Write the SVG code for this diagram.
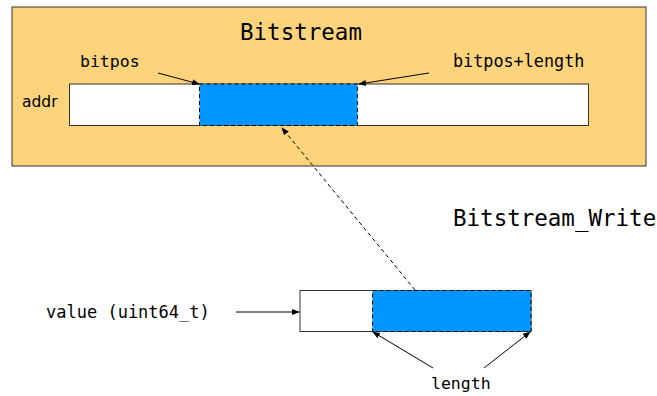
<svg xmlns="http://www.w3.org/2000/svg" width="657" height="396" viewBox="0 0 657 396">
<defs>
<style>
.mono{font-family:"DejaVu Sans Mono","Liberation Mono",monospace;fill:#000}
.sans{font-family:"DejaVu Sans","Liberation Sans",sans-serif;fill:#000}
.ln{stroke:#000;stroke-width:1;fill:none}
.dash{stroke:#000;stroke-width:1;fill:none;stroke-dasharray:4,3}
.sel{stroke:#000;stroke-width:1;fill:#0096FF;stroke-dasharray:4,3}
</style>
<marker id="ah" markerWidth="8" markerHeight="6" refX="7" refY="3" orient="auto" markerUnits="userSpaceOnUse">
<path d="M0,0 L8,3 L0,6 z" fill="#000"/>
</marker>
</defs>
<rect width="657" height="396" fill="#fff"/>
<g id="bitstream">
<rect x="12" y="7" width="634" height="159" fill="#FDD47B" stroke="#333" stroke-width="1"/>
<text class="mono" x="301" y="40" font-size="22.5" text-anchor="middle">Bitstream</text>
<rect x="69.5" y="84" width="519" height="41.5" fill="#fff" stroke="#333" stroke-width="1"/>
<rect x="199.5" y="84" width="158" height="41.5" class="sel"/>
<text class="sans" x="22" y="107" font-size="15.5">addr</text>
<text class="mono" x="80" y="67" font-size="16.5">bitpos</text>
<text class="mono" x="453" y="67" font-size="16.8">bitpos+length</text>
</g>
<g id="value">
<rect x="300" y="290.5" width="231" height="41" fill="#fff" stroke="#333" stroke-width="1"/>
<rect x="372.5" y="290.5" width="158.5" height="41" class="sel"/>
<text class="mono" x="46" y="318" font-size="17">value (uint64_t)</text>
<text class="mono" x="431" y="389" font-size="16.5">length</text>
</g>
<g id="write-label">
<text class="mono" x="453" y="226" font-size="22.5">Bitstream_Write</text>
</g>
<g id="connectors">
<line class="ln" x1="158" y1="73" x2="199" y2="84" marker-end="url(#ah)"/>
<line class="ln" x1="429" y1="73" x2="359" y2="84" marker-end="url(#ah)"/>
<line class="dash" x1="415" y1="290" x2="282" y2="128" marker-end="url(#ah)"/>
<line class="ln" x1="236" y1="312" x2="299" y2="312" marker-end="url(#ah)"/>
<line class="ln" x1="433" y1="368" x2="373" y2="332" marker-end="url(#ah)"/>
<line class="ln" x1="484" y1="368" x2="530" y2="332" marker-end="url(#ah)"/>
</g>
</svg>
